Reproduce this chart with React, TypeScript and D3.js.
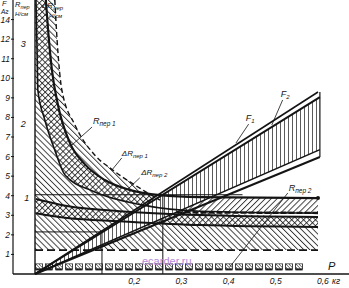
import React from "react";
import * as d3 from "d3";

const W = 349;
const H = 288;

// Axis ticks
const yTickValues = [1, 2, 3, 4, 5, 6, 7, 8, 9, 10, 11, 12, 13];
const yTickLabels = ["1", "2", "3", "4", "5", "6", "7", "8", "9", "10", "11", "12", "14"];
const xTickValues = [0.2, 0.3, 0.4, 0.5, 0.6];
const xTickLabels = ["0,2", "0,3", "0,4", "0,5", "0,6"];

// Contact resistance curves, [P kg, value]
const rPer1Upper: [number, number][] = [
  [0.023, 14.0], [0.028, 12.4], [0.036, 10.4], [0.049, 8.6], [0.074, 6.7],
  [0.106, 5.6], [0.148, 4.8], [0.2, 4.3], [0.265, 4.03], [0.35, 3.93], [0.6, 3.88],
];
const rPer1Lower: [number, number][] = [
  [0.002, 14.0], [0.004, 11.9], [0.006, 9.4], [0.021, 7.86], [0.042, 6.33],
  [0.064, 5.05], [0.123, 4.23], [0.229, 3.52], [0.35, 3.21], [0.6, 3.11],
];
const deltaR1: [number, number][] = [
  [0.042, 14.0], [0.047, 11.9], [0.057, 9.4], [0.085, 7.6], [0.127, 6.07],
  [0.165, 5.31], [0.212, 4.54], [0.265, 3.78], [0.35, 3.21], [0.6, 2.91],
];
const rPer2Upper: [number, number][] = [
  [0.002, 3.83], [0.068, 3.47], [0.18, 3.21], [0.35, 3.01], [0.6, 2.91],
];
const rPer2Lower: [number, number][] = [
  [0.002, 3.11], [0.068, 2.86], [0.18, 2.7], [0.35, 2.5], [0.6, 2.4],
];

// Force lines from the origin: end points
const f2End: [number, number] = [0.6, 9.3];
const f1End: [number, number] = [0.604, 9.04];
const fLowA: [number, number] = [0.604, 6.35];
const fLowB: [number, number] = [0.604, 5.98];

// Reference levels and projections
const level1 = 4.05;
const level1End = 0.44;
const level2 = 2.15;
const drop1 = 0.271;
const drop2 = 0.142;
const dashLevel = 1.22;
const blockTop = 0.55;
const blockBottom = 0.22;
const blockEnd = 0.57;

// Leader lines: from label to curve
const leaders: { from: [number, number]; to: [number, number] }[] = [
  { from: [0.121, 7.51], to: [0.076, 6.54] },
  { from: [0.184, 5.93], to: [0.163, 5.31] },
  { from: [0.222, 4.91], to: [0.197, 4.34] },
  { from: [0.453, 7.66], to: [0.426, 6.69] },
  { from: [0.525, 8.89], to: [0.502, 7.61] },
  { from: [0.536, 4.14], to: [0.413, 0.36] },
];

const x = d3.scaleLinear().domain([0, 0.6]).range([35, 318]);
const y = d3.scaleLinear().domain([0, 14]).range([274, 0]);

const line = d3
  .line<[number, number]>()
  .x((d) => x(d[0]))
  .y((d) => y(d[1]))
  .curve(d3.curveMonotoneX);

const ink = "#141414";
const font = "Liberation Sans, Arial, sans-serif";

function Hatch({ id, angle, gap = 4.2, w = 0.8 }: { id: string; angle: number; gap?: number; w?: number }) {
  return (
    <pattern id={id} patternUnits="userSpaceOnUse" width={gap} height={gap} patternTransform={`rotate(${angle})`}>
      <line x1={0.5} y1={0} x2={0.5} y2={gap} stroke={ink} strokeWidth={w} />
    </pattern>
  );
}

export default function App() {
  const x0 = x(0);
  const xEnd = x(0.6);
  const top = y(14);
  const bottom = y(0);

  // left-below of the upper Rпер1 curve
  const belowR1U = `${line(rPer1Upper)}L${xEnd},${bottom}L${x0},${bottom}L${x0},${top}Z`;
  // right-above of the lower Rпер1 curve
  const aboveR1L = `${line(rPer1Lower)}L${xEnd},${top}Z`;
  // ΔRпер region under the dashed curve
  const belowDelta = `${line(deltaR1)}L${xEnd},${y(dashLevel)}L${x0},${y(dashLevel)}L${x0},${top}Z`;
  const belowR2U = `${line(rPer2Upper)}L${xEnd},${bottom}L${x(0.002)},${bottom}Z`;
  const aboveR2L = `${line(rPer2Lower)}L${xEnd},${top}L${x(0.002)},${top}Z`;

  const fBand = `M${x0},${bottom}L${x(f1End[0])},${y(f1End[1])}L${x(fLowA[0])},${y(fLowA[1])}Z`;

  const deltaUpperPart = deltaR1.filter((d) => d[0] <= 0.27);

  const it = { fontFamily: font, fontStyle: "italic" as const, fill: ink };

  return (
    <svg width={W} height={H} style={{ position: "absolute", left: 0, top: 0, background: "#fff" }}>
      <defs>
        <Hatch id="hF" angle={45} />
        <Hatch id="hB" angle={-45} />
        <Hatch id="hV" angle={0} gap={4} w={0.7} />
        <clipPath id="plot">
          <rect x={x0} y={0} width={xEnd - x0 + 1} height={bottom} />
        </clipPath>
        <clipPath id="cR1">
          <path d={aboveR1L} />
        </clipPath>
        <clipPath id="cR2">
          <path d={aboveR2L} />
        </clipPath>
        <pattern id="blocks" patternUnits="userSpaceOnUse" x={x0} y={y(blockTop)} width={10} height={40}>
          <rect x={0.5} y={0.5} width={7} height={y(blockBottom) - y(blockTop) - 1} fill="none" stroke={ink} strokeWidth={0.8} />
          <line x1={0.5} y1={y(blockBottom) - y(blockTop)} x2={7.5} y2={y(blockBottom) - y(blockTop)} stroke={ink} strokeWidth={2} />
          <path d="M1,1L6,6M4,1L7,4M1,4L3,6" stroke={ink} strokeWidth={0.7} />
        </pattern>
      </defs>

      <rect x={0} y={0} width={W} height={H} fill="#fff" />

      {/* hatched regions */}
      <g clipPath="url(#plot)">
        <path d={belowDelta} fill="url(#hB)" />
        <path d={belowR1U} fill="url(#hF)" clipPath="url(#cR1)" />
        <path d={belowR2U} fill="url(#hF)" clipPath="url(#cR2)" />
        <path d={fBand} fill="#fff" />
        <path d={fBand} fill="url(#hV)" />
      </g>

      {/* block row near the axis */}
      <rect x={x0} y={y(blockTop)} width={x(blockEnd) - x0} height={y(blockBottom) - y(blockTop) + 1} fill="url(#blocks)" />

      {/* curves */}
      <g fill="none" stroke={ink} clipPath="url(#plot)">
        <path d={line(rPer1Upper) || ""} strokeWidth={2.2} />
        <path d={line(rPer1Lower) || ""} strokeWidth={1.6} />
        <path d={line(deltaUpperPart) || ""} strokeWidth={1.4} strokeDasharray="5 3" />
        <path d={line(rPer2Upper) || ""} strokeWidth={2} />
        <path d={line(rPer2Lower) || ""} strokeWidth={2} />
        <line x1={x(0.3)} x2={xEnd} y1={y(3.15)} y2={y(3.12)} strokeWidth={2.4} strokeDasharray="6 2" />
      </g>

      {/* force lines */}
      <g stroke={ink} fill="none">
        <line x1={x0} y1={bottom} x2={x(f2End[0])} y2={y(f2End[1])} strokeWidth={1.6} />
        <line x1={x0} y1={bottom} x2={x(f1End[0])} y2={y(f1End[1])} strokeWidth={2} />
        <line x1={x0} y1={bottom} x2={x(fLowA[0])} y2={y(fLowA[1])} strokeWidth={1.4} />
        <line x1={x0} y1={bottom} x2={x(fLowB[0])} y2={y(fLowB[1])} strokeWidth={2} />
        <line x1={x(f1End[0])} y1={y(f2End[1])} x2={x(fLowB[0])} y2={y(fLowB[1])} strokeWidth={1.2} />
      </g>

      {/* reference levels */}
      <g stroke={ink} fill="none">
        <line x1={x0} x2={x(level1End)} y1={y(level1)} y2={y(level1)} strokeWidth={1} />
        <line x1={x0} x2={x(drop2)} y1={y(level2)} y2={y(level2)} strokeWidth={1} />
        <line x1={x(drop1)} x2={x(drop1)} y1={y(level1)} y2={bottom} strokeWidth={1} />
        <line x1={x(drop2)} x2={x(drop2)} y1={y(level2)} y2={bottom} strokeWidth={1} />
        <line x1={x0} x2={xEnd} y1={y(dashLevel)} y2={y(dashLevel)} strokeWidth={1.8} strokeDasharray="8 4" />
      </g>
      <circle cx={x(rPer1Upper[rPer1Upper.length - 1][0])} cy={y(rPer1Upper[rPer1Upper.length - 1][1])} r={2} fill={ink} />

      {/* axes */}
      <g stroke={ink}>
        <line x1={13} x2={13} y1={0} y2={bottom} strokeWidth={1.2} />
        <line x1={x0} x2={x0} y1={0} y2={bottom} strokeWidth={1.4} />
        <line x1={13} x2={W} y1={bottom} y2={bottom} strokeWidth={1.4} />
        {yTickValues.map((v) => (
          <line key={v} x1={11} x2={14} y1={y(v)} y2={y(v)} strokeWidth={1} />
        ))}
      </g>
      {yTickValues.map((v, i) => (
        <text key={v} x={10} y={y(v) + 3} textAnchor="end" fontSize={8.5} {...it}>
          {yTickLabels[i]}
        </text>
      ))}
      {xTickValues.map((v, i) => (
        <text key={v} x={x(v) - 1} y={284} fontSize={8.5} {...it}>
          {xTickLabels[i]}
        </text>
      ))}
      <text x={x(0.6) + 14} y={284} fontSize={8.5} {...it}>кг</text>
      <text x={x(0.621)} y={y(0.2)} fontSize={11} {...it}>P</text>

      {/* axis headers */}
      <text x={2} y={6} fontSize={7.5} {...it}>F</text>
      <text x={1} y={13.5} fontSize={6.5} {...it}>Аг</text>
      <text x={15} y={7} fontSize={7.5} {...it}>
        R<tspan fontSize={5.5} dy={1.5}>пер</tspan>
      </text>
      <text x={15} y={16} fontSize={6} {...it}>Н/см</text>
      <text x={42} y={8} fontSize={8} {...it}>
        ΔR<tspan fontSize={6} dy={2}>пер</tspan>
      </text>
      <text x={49} y={18} fontSize={6} {...it}>Н/см</text>

      {/* curve numbers */}
      <text x={x(-0.03)} y={y(11.75) + 3} fontSize={9} {...it}>3</text>
      <text x={x(-0.03)} y={y(7.66) + 3} fontSize={9} {...it}>2</text>
      <text x={x(-0.023)} y={y(3.88) + 3} fontSize={9} {...it}>1</text>

      {/* annotations */}
      <g stroke={ink} strokeWidth={0.8}>
        {leaders.map((l, i) => (
          <line key={i} x1={x(l.from[0])} y1={y(l.from[1])} x2={x(l.to[0])} y2={y(l.to[1])} />
        ))}
      </g>
      <text x={x(0.123)} y={y(7.66)} fontSize={9} {...it}>
        R<tspan fontSize={6.5} dy={2}>пер 1</tspan>
      </text>
      <text x={x(0.184)} y={y(6.03)} fontSize={8} {...it}>
        ΔR<tspan fontSize={6} dy={2}>пер 1</tspan>
      </text>
      <text x={x(0.225)} y={y(5.06)} fontSize={8} {...it}>
        ΔR<tspan fontSize={6} dy={2}>пер 2</tspan>
      </text>
      <text x={x(0.447)} y={y(7.82)} fontSize={9} {...it}>
        F<tspan fontSize={6} dy={2}>1</tspan>
      </text>
      <text x={x(0.521)} y={y(9.04)} fontSize={9} {...it}>
        F<tspan fontSize={6} dy={2}>2</tspan>
      </text>
      <text x={x(0.538)} y={y(4.24)} fontSize={9} {...it}>
        R<tspan fontSize={6.5} dy={2}>пер 2</tspan>
      </text>

      <text x={142} y={265} fontSize={11} fontFamily={font} fill="#b48ad8">ecarder.ru</text>
    </svg>
  );
}
